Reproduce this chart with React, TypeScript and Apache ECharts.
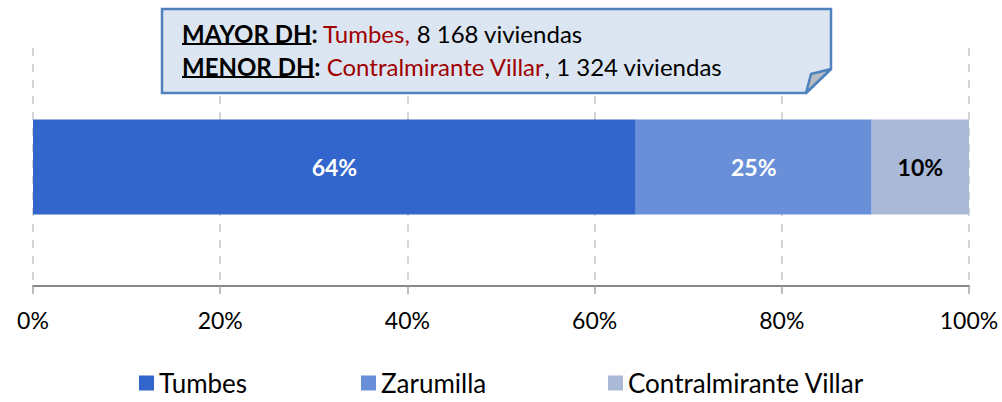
import React, { useEffect, useRef } from "react";
import * as echarts from "echarts";

const categories = ["Distribución"];
const seriesNames = ["Tumbes", "Zarumilla", "Contralmirante Villar"];
const seriesValues = [64.4, 25.2, 10.4];
const seriesColors = ["#3366CC", "#6A8FD9", "#AAB9D7"];
const labelColors = ["#FFFFFF", "#FFFFFF", "#000000"];
const tickValues = [0, 20, 40, 60, 80, 100];

const mayorLabel = "MAYOR DH";
const mayorName = "Tumbes,";
const mayorText = " 8 168 viviendas";
const menorLabel = "MENOR DH";
const menorName = "Contralmirante Villar";
const menorText = ", 1 324 viviendas";

const FONT = "Lato";

function measure(text: string, font: string): number {
  const c = document.createElement("canvas");
  const ctx = c.getContext("2d")!;
  ctx.font = font;
  return ctx.measureText(text).width;
}

export default function App() {
  const ref = useRef<HTMLDivElement>(null);
  useEffect(() => {
    document.body.style.margin = "0";
    const chart = echarts.init(ref.current!, null, { renderer: "svg" });
    const calloutSize = 24;
    const boldFont = `bold ${calloutSize}px ${FONT}`;
    const w1 = measure(mayorLabel, boldFont);
    const w2 = measure(menorLabel, boldFont);
    const tx = 182;
    const y1 = 33;
    const y2 = 66;
    const richStyles = {
      b: { fontFamily: FONT, fontSize: calloutSize, fontWeight: "bold", fill: "#000" },
      r: { fontFamily: FONT, fontSize: calloutSize, fill: "#A00000" },
      n: { fontFamily: FONT, fontSize: calloutSize, fill: "#000" },
    };
    const series = seriesNames.map((name, i) => ({
      name,
      type: "bar",
      stack: "total",
      barWidth: 95,
      data: [seriesValues[i]],
      itemStyle: { color: seriesColors[i] },
      label: {
        show: true,
        position: "inside",
        color: labelColors[i],
        fontFamily: FONT,
        fontSize: 23,
        fontWeight: "bold",
        formatter: (p: any) => Math.round(p.value) + "%",
      },
    }));
    const legendLefts = [134, 356, 603];
    chart.setOption({
      animation: false,
      grid: { left: 33, right: 33, top: 48, bottom: 116 },
      xAxis: {
        type: "value",
        min: tickValues[0],
        max: tickValues[tickValues.length - 1],
        interval: 20,
        axisLine: { show: true, lineStyle: { color: "#888888", width: 2 } },
        axisTick: { show: true, length: 8, lineStyle: { color: "#A6A6A6", width: 1.5 } },
        axisLabel: {
          formatter: "{value}%",
          fontFamily: FONT,
          fontSize: 23,
          color: "#000",
          margin: 22,
        },
        splitLine: { show: true, lineStyle: { color: "#C8C8C8", type: [8, 8], width: 1.5 } },
      },
      yAxis: {
        type: "category",
        data: categories,
        show: false,
      },
      legend: seriesNames.map((n, i) => ({
        data: [n],
        left: legendLefts[i],
        top: 365,
        itemWidth: 15,
        itemHeight: 15,
        itemGap: 8,
        icon: "rect",
        textStyle: { fontFamily: FONT, fontSize: 26, lineHeight: 26, color: "#000" },
      })),
      series,
      graphic: [
        {
          type: "polygon",
          shape: { points: [[162, 9], [831, 9], [831, 69], [806, 93], [162, 93]] },
          style: { fill: "#DCE6F2", stroke: "#4F81BD", lineWidth: 2.5 },
          z: 10,
        },
        {
          type: "polygon",
          shape: { points: [[831, 69], [811, 74], [806, 93]] },
          style: { fill: "#B7BCC4", stroke: "#4F81BD", lineWidth: 2.5, lineJoin: "round" },
          z: 11,
        },
        {
          type: "text",
          x: tx,
          y: y1,
          z: 12,
          style: {
            text: `{b|${mayorLabel}}{b|:}{r| ${mayorName}}{n|${mayorText}}`,
            rich: richStyles,
            verticalAlign: "middle",
            align: "left",
          },
        },
        {
          type: "text",
          x: tx,
          y: y2,
          z: 12,
          style: {
            text: `{b|${menorLabel}}{b|:}{r| ${menorName}}{n|${menorText}}`,
            rich: richStyles,
            verticalAlign: "middle",
            align: "left",
          },
        },
        {
          type: "line",
          z: 12,
          shape: { x1: tx, y1: y1 + 11, x2: tx + w1, y2: y1 + 11 },
          style: { stroke: "#000", lineWidth: 2 },
        },
        {
          type: "line",
          z: 12,
          shape: { x1: tx, y1: y2 + 11, x2: tx + w2, y2: y2 + 11 },
          style: { stroke: "#000", lineWidth: 2 },
        },
      ],
    });
    return () => chart.dispose();
  }, []);
  return <div ref={ref} style={{ width: 1002, height: 402 }} />;
}
